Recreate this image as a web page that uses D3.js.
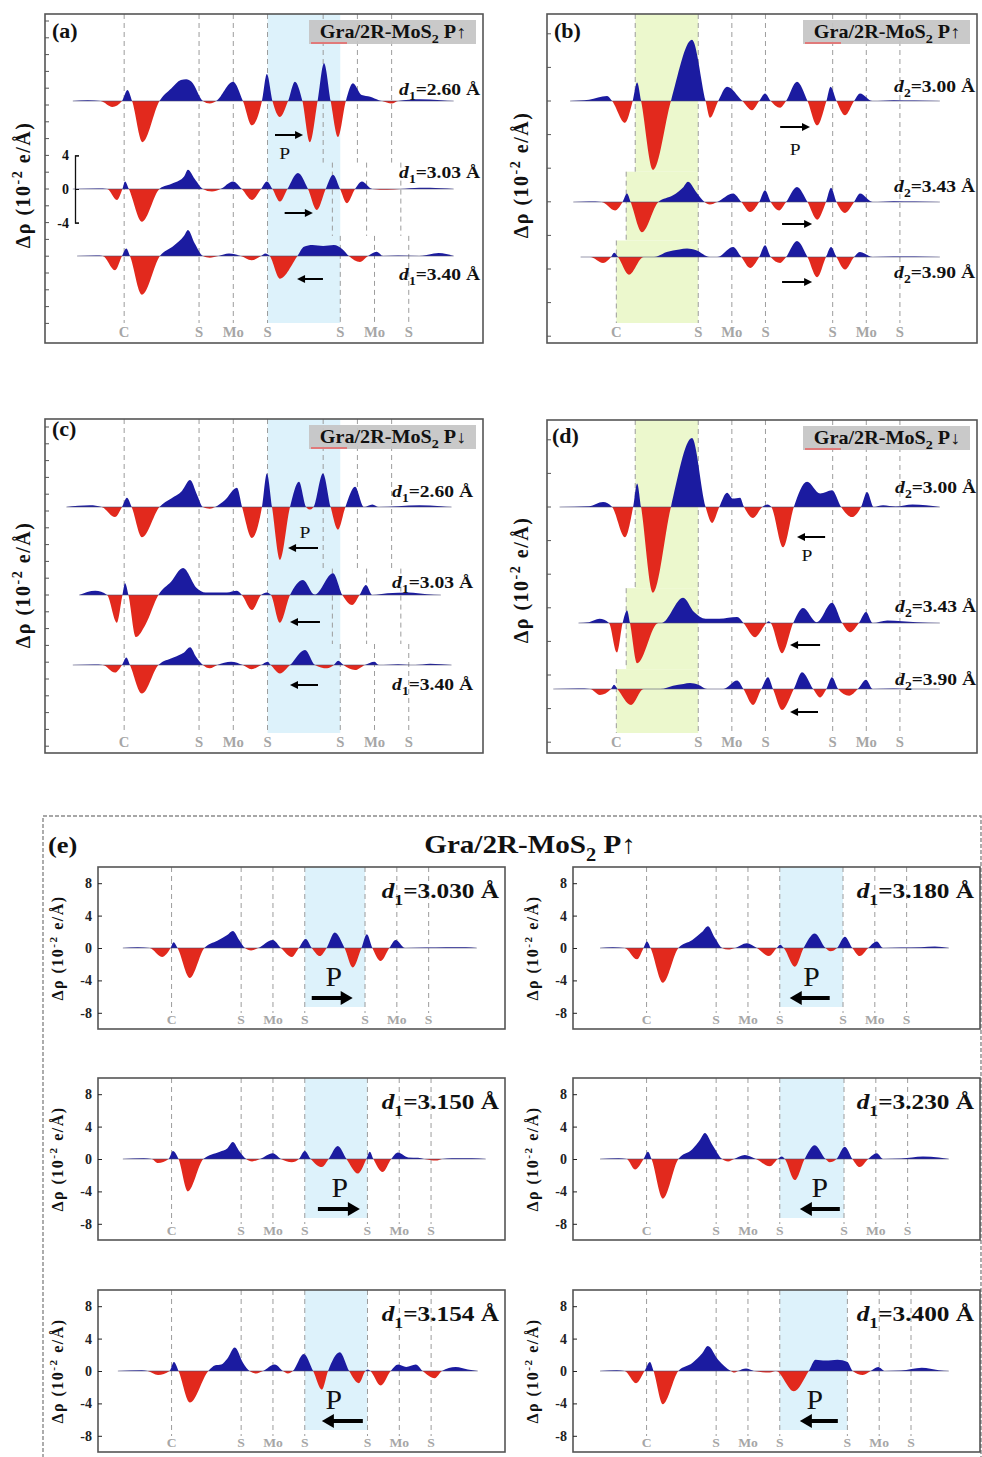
<!DOCTYPE html>
<meta charset="utf-8">
<style>
  body { margin: 0; background: #fff; }
  svg text { font-family: "Liberation Serif", "Times New Roman", serif; }
</style>
<body>
<script src="https://cdn.jsdelivr.net/npm/d3@7"></script>
<script>
// ---------------- data (z in Å along the stacking axis, Δρ in 10^-2 e/Å) ----------------
var atomNames = ["C", "S", "Mo", "S", "S", "Mo", "S"];
var lowerLayer = [7.2, 8.8, 10.4];     // S, Mo, S of the bottom MoS2 layer
var upperOffsets = [0, 1.6, 3.2];      // S, Mo, S of the top layer from its lower S
var d1Fixed = 3.2, d2Fixed = 3.5;

var d1Up = [2.60, 3.03, 3.40];         // (a), (c)
var d2Up = [3.00, 3.43, 3.90];         // (b), (d)
var d1Scan = [3.030, 3.180, 3.150, 3.230, 3.154, 3.400];  // (e)
var pScan = [1, -1, 1, -1, -1, -1];    // polarization direction in (e)

var a_260 = [[1.3,0],[2.0,0.1],[2.6,0],[3.15,-0.7],[3.6,0],[3.85,1.3],[4.07,0],[4.55,-4.9],[5.35,0],[5.9,1.5],[6.35,2.5],[6.6,2.6],[6.85,2.3],[7.38,0],[7.7,-0.3],[8.0,0],[8.79,2.3],[9.25,0],[9.67,-2.9],[10.14,0],[10.37,3.2],[10.63,0],[10.98,-1.9],[11.36,0],[11.68,2.3],[12.03,0],[12.38,-4.9],[12.74,0],[13.04,4.5],[13.35,0],[13.69,-4.3],[14.06,0],[14.39,2.1],[14.8,0.7],[15.2,0.5],[15.6,0.1],[15.75,0],[16.2,-0.3],[16.5,0],[17.5,0.2],[18.5,0.1],[19.1,0]];
var a_303 = [[1.3,0],[2.5,0.05],[2.9,0],[3.36,-1.3],[3.62,0],[3.74,0.9],[3.92,0],[4.53,-3.9],[5.35,0],[6.0,0.7],[6.5,1.5],[6.68,2.3],[7.0,1.2],[7.38,0],[7.8,-0.3],[8.2,0],[8.79,0.9],[9.2,0],[9.67,-1.3],[10.1,0],[10.37,0.9],[10.63,0],[10.98,-1.5],[11.33,0],[11.82,1.9],[12.29,0],[12.71,-2.5],[13.12,0],[13.46,1.7],[13.79,0],[14.11,-1.7],[14.49,0],[14.81,0.9],[15.3,0],[16.0,-0.1],[16.6,0],[17.5,0.15],[18.5,0.1],[19.1,0]];
var a_340 = [[1.5,0],[2.4,0.05],[2.7,0],[3.27,-1.7],[3.6,0],[3.8,0.9],[3.97,0],[4.53,-4.6],[5.37,0],[6.0,1.2],[6.5,2.4],[6.68,3.1],[7.0,1.5],[7.38,0],[7.7,-0.2],[8.1,0],[8.6,0.3],[9.15,0],[9.65,-0.5],[10.1,0],[10.3,0.3],[10.5,0],[10.98,-2.7],[11.8,0],[12.1,1.1],[12.5,1.3],[13.0,1.2],[13.5,1.3],[13.9,0.8],[14.2,0],[14.72,-0.7],[15.1,0],[15.5,0.5],[15.8,0],[16.5,0.05],[17.5,0],[18.4,0.35],[19.1,0]];

var b_300 = [[1.1,0],[2.0,0.15],[2.86,0.6],[3.1,0],[3.71,-2.6],[4.08,0],[4.29,2.2],[4.48,0],[5.05,-8.2],[5.9,0],[6.9,7.3],[7.55,0],[7.76,-2.0],[8.15,0],[8.57,1.7],[9.3,0],[9.76,-1.1],[10.1,0],[10.38,0.9],[10.65,0],[11.1,-0.8],[11.38,0],[11.9,2.3],[12.4,0],[12.86,-2.9],[13.3,0],[13.5,1.7],[13.78,0],[14.19,-1.7],[14.62,0],[14.9,0.9],[15.5,0],[16.5,0.1],[17.5,0.05],[18.7,0]];
var b_343 = [[1.25,0],[2.0,0.05],[2.6,0],[3.24,-1.0],[3.6,0],[3.81,1.0],[3.98,0],[4.52,-3.6],[5.3,0],[6.0,0.8],[6.5,1.8],[6.71,2.4],[7.1,1.2],[7.5,0],[7.75,-0.3],[8.1,0],[8.86,1.0],[9.25,0],[9.67,-1.2],[10.1,0],[10.38,1.4],[10.65,0],[11.05,-1.0],[11.38,0],[11.9,1.8],[12.4,0],[12.86,-2.1],[13.28,0],[13.52,1.7],[13.78,0],[14.19,-1.3],[14.62,0],[14.9,1.0],[15.5,0],[16.5,0.1],[17.5,0.05],[18.7,0]];
var b_390 = [[1.6,0],[2.05,0],[2.67,-0.7],[3.05,0],[3.2,0.5],[3.38,0],[3.9,-2.1],[4.6,0],[5.1,0],[5.7,0.6],[6.3,0.9],[6.67,1.0],[7.1,0.8],[7.75,0],[8.1,0],[8.86,1.2],[9.25,0],[9.67,-1.3],[10.1,0],[10.38,1.4],[10.65,0],[11.1,-0.7],[11.38,0],[11.9,1.9],[12.4,0],[12.86,-2.4],[13.28,0],[13.52,1.2],[13.78,0],[14.19,-1.5],[14.62,0],[14.9,0.6],[15.5,0],[16.5,0.05],[17.5,0.05],[18.7,0]];

var c_260 = [[1.0,0],[2.1,0.2],[2.65,0],[3.27,-1.2],[3.6,0],[3.83,1.1],[4.05,0],[4.53,-3.6],[5.35,0],[5.9,1.0],[6.4,1.9],[6.78,3.2],[7.1,1.5],[7.38,0],[7.7,-0.2],[7.95,0],[8.4,0.8],[8.97,2.3],[9.21,0],[9.67,-3.7],[10.14,0],[10.37,4.0],[10.61,0],[10.98,-6.3],[11.45,0],[11.87,3.0],[12.2,0],[12.38,-0.3],[12.55,0],[12.99,4.0],[13.35,0],[13.69,-2.7],[14.04,0],[14.49,2.4],[14.9,0],[15.3,0.3],[15.6,0],[16.5,0.1],[17.5,0.2],[18.5,0.1],[19.0,0]];
var c_303 = [[1.6,0],[2.35,0.5],[2.9,0],[3.36,-3.3],[3.62,0],[3.74,1.4],[3.9,0],[4.25,-5.0],[4.7,-3.5],[5.3,0],[5.9,1.6],[6.45,3.2],[7.1,0.8],[7.5,0.3],[8.5,0.3],[8.97,0.5],[9.2,0],[9.67,-1.8],[10.1,0],[10.37,0.3],[10.56,0],[10.98,-3.3],[11.45,0],[12.06,1.8],[12.6,0.05],[13.46,2.6],[13.9,0],[14.35,-1.2],[14.7,0],[15.0,1.2],[15.3,0],[16.0,0.2],[17.0,0.3],[17.85,0.1],[18.5,0]];
var c_340 = [[1.3,0],[2.3,0.05],[2.7,0],[3.27,-0.9],[3.6,0],[3.8,0.9],[3.97,0],[4.53,-3.4],[5.3,0],[6.0,0.9],[6.5,1.5],[6.78,2.1],[7.05,1.0],[7.38,0],[7.7,-0.4],[8.05,0],[8.7,0.4],[9.25,0],[9.65,-0.5],[10.1,0],[10.4,0.4],[10.55,0],[10.98,-1.0],[11.45,0],[12.15,1.8],[12.62,0],[13.18,-0.4],[13.5,0],[13.7,0.5],[13.95,0],[14.49,-0.6],[14.95,0],[15.4,0.4],[15.6,0],[16.5,0.1],[17.3,0],[18.0,0.15],[19.0,0]];

var d_300 = [[0.6,0],[2.0,0.1],[2.67,0.6],[3.1,0],[3.71,-3.6],[4.1,0],[4.29,2.8],[4.48,0],[5.05,-10.2],[5.9,0],[6.9,8.2],[7.55,0],[7.86,-1.9],[8.2,0],[8.57,1.7],[8.85,1.0],[9.19,1.1],[9.38,0],[9.81,-1.3],[10.25,0],[10.5,0.3],[10.68,0],[11.24,-4.8],[11.75,0],[12.38,3.0],[13.0,1.6],[13.57,2.0],[14.0,0],[14.52,-1.2],[14.95,0],[15.24,1.8],[15.55,0],[16.0,0.2],[16.6,0.05],[17.4,0.3],[18.7,0]];
var d_343 = [[1.5,0],[2.0,0.1],[2.5,0.5],[2.95,0],[3.33,-3.5],[3.6,0],[3.81,1.5],[3.95,0],[4.29,-4.8],[5.3,0],[5.45,0],[6.48,3.0],[7.0,1.3],[7.55,0.5],[8.2,0.5],[9.05,0.7],[9.35,0],[9.9,-1.7],[10.45,0],[10.55,0.2],[10.65,0],[11.19,-3.6],[11.72,0],[12.19,1.8],[12.85,0.1],[13.57,2.4],[14.05,0],[14.43,-1.1],[14.85,0],[15.19,1.3],[15.5,0],[16.2,0.3],[16.9,0.2],[17.6,0.1],[18.7,0]];
var d_390 = [[0.3,0],[1.5,0.05],[2.05,0],[2.52,-0.7],[3.05,0],[3.19,0.5],[3.35,0],[4.0,-1.9],[4.6,0],[5.4,0],[6.0,0.4],[6.5,0.6],[6.81,0.7],[7.2,0.5],[7.62,0],[8.4,0],[9.05,1.0],[9.35,0],[9.81,-1.9],[10.2,0],[10.52,1.4],[10.76,0],[11.19,-2.5],[11.75,0],[12.14,2.0],[12.67,0],[13.0,-1.0],[13.3,0],[13.57,1.4],[13.86,0],[14.38,-0.8],[14.8,0],[15.19,1.1],[15.5,0],[16.5,0.05],[17.5,0],[18.7,0]];

var e_3030 = [[1.25,0],[2.0,0.1],[2.6,0],[3.22,-1.1],[3.65,0],[3.8,0.7],[4.0,0],[4.62,-3.7],[5.35,0],[6.0,0.9],[6.5,1.6],[6.78,2.1],[7.1,1.0],[7.39,0],[7.7,-0.3],[8.05,0],[8.79,1.0],[9.2,0],[9.75,-1.1],[10.1,0],[10.45,1.1],[10.75,0],[11.16,-1.0],[11.5,0],[11.91,1.9],[12.4,0],[12.81,-2.4],[13.25,0],[13.52,1.7],[13.8,0],[14.22,-1.6],[14.65,0],[14.97,1.0],[15.45,0],[16.5,0.05],[17.5,0.1],[18.5,0.1],[19.05,0]];
var e_3180 = [[1.36,0],[2.0,0.1],[2.6,0],[3.22,-1.4],[3.55,0],[3.72,0.8],[3.9,0],[4.52,-4.3],[5.3,0],[6.0,1.0],[6.5,2.0],[6.78,2.7],[7.15,1.2],[7.5,0],[7.8,-0.2],[8.15,0],[8.74,0.6],[9.25,0],[9.85,-1.0],[10.25,0],[10.42,0.4],[10.6,0],[11.16,-2.3],[11.6,0],[12.16,1.8],[12.7,0],[12.95,-0.4],[13.28,0],[13.67,1.4],[14.05,0],[14.42,-1.0],[14.85,0],[15.28,0.8],[15.6,0],[16.5,0.05],[17.5,0.1],[18.2,0.2],[18.9,0]];
var e_3150 = [[1.25,0],[2.3,0.1],[2.7,0],[3.02,-0.5],[3.55,0],[3.77,1.0],[4.05,0],[4.52,-4.0],[5.3,0],[6.13,0.9],[6.5,1.3],[6.78,2.1],[7.1,1.0],[7.45,0],[7.75,-0.3],[8.15,0],[8.79,0.7],[9.2,0],[9.75,-0.4],[10.1,0],[10.4,1.0],[10.7,0],[11.26,-1.0],[11.6,0],[12.06,1.6],[12.5,0],[13.07,-1.8],[13.5,0],[13.67,0.9],[13.85,0],[14.32,-1.6],[14.75,0],[15.08,0.8],[15.6,0.2],[16.1,0.15],[16.4,0],[17.0,-0.2],[17.3,0],[17.8,0.1],[18.8,0.1],[19.5,0]];
var e_3230 = [[1.36,0],[2.3,0.1],[2.7,0],[3.12,-1.3],[3.55,0],[3.77,0.9],[3.95,0],[4.52,-4.9],[5.3,0],[6.0,1.2],[6.4,2.4],[6.63,3.2],[7.0,1.8],[7.5,0],[7.8,-0.3],[8.1,0],[8.64,0.5],[9.2,0],[9.9,-0.9],[10.3,0],[10.5,0.3],[10.65,0],[11.16,-2.6],[11.65,0],[12.16,1.7],[12.7,0],[12.91,-0.4],[13.25,0],[13.67,1.5],[14.05,0],[14.42,-1.0],[14.85,0],[15.28,0.7],[15.6,0],[16.5,0.05],[17.6,0.3],[18.4,0.2],[18.9,0]];
var e_3154 = [[1.0,0],[2.2,0.1],[2.5,0],[3.02,-0.5],[3.6,0],[3.82,1.1],[4.05,0],[4.62,-3.9],[5.55,0],[5.9,0.7],[6.2,0.8],[6.5,1.5],[6.88,2.9],[7.3,1.0],[7.62,0],[7.95,-0.3],[8.3,0],[8.89,0.8],[9.3,0],[9.55,-0.3],[9.8,0],[10.35,2.1],[10.82,0],[11.26,-2.3],[11.57,0],[12.16,2.3],[12.63,0],[13.12,-1.5],[13.45,0],[13.57,0.2],[13.7,0],[14.22,-1.8],[14.72,0],[15.1,0.8],[15.5,0.5],[15.98,0.8],[16.33,0],[16.93,-0.9],[17.3,0],[17.99,0.5],[18.6,0.2],[19.1,0]];
var e_3400 = [[1.36,0],[2.2,0.1],[2.6,0],[3.17,-1.5],[3.6,0],[3.87,1.1],[4.05,0],[4.52,-4.1],[5.3,0],[6.0,1.0],[6.5,2.2],[6.78,3.1],[7.3,1.4],[7.94,0],[8.1,-0.2],[8.3,0],[8.7,0.3],[9.1,0],[9.9,-0.2],[10.2,0],[11.11,-2.5],[11.86,0],[12.2,1.4],[12.7,1.3],[13.3,1.4],[13.8,1.1],[14.07,0],[14.57,-0.5],[14.97,0],[15.35,0.5],[15.7,0],[16.5,0.05],[17.54,0.4],[18.4,0.1],[18.9,0]];

var panelA = [a_260, a_303, a_340];
var panelB = [b_300, b_343, b_390];
var panelC = [c_260, c_303, c_340];
var panelD = [d_300, d_343, d_390];
var scanCurves = [e_3030, e_3180, e_3150, e_3230, e_3154, e_3400];

// ---------------- layout ----------------
var W = 982, H = 1457;
var xDomain = [0, 20.47];
var kTop = 8.4;                // px per unit in (a)-(d)
var blue = "#1b1ba0", red = "#e2291d", skyBlue = "#ddf2fb", lime = "#ecf8cd";
var same3 = function (v) { return [v, v, v]; };

var topPanels = [
  { tag: "(a)", tagPos: [52, 38], box: [45, 14, 483, 343], bases: [101, 189, 256], curves: panelA,
    d1: d1Up, d2: same3(d2Fixed), dSub: "1", dVals: d1Up, pArrow: "↑", region: "S", tickStep: 2, tickAnchor: 1,
    dLab: [95, 178, 280], dx: 480, arrows: [[135, 10.75, 12.06], [213, 11.2, 12.52], [279, 12.99, 11.78]],
    P: [11.2, 159], ylab: [30, 185], bracket: true },
  { tag: "(b)", tagPos: [554, 38], box: [547, 14, 977, 343], bases: [101, 202, 257], curves: panelB,
    d1: same3(d1Fixed), d2: d2Up, dSub: "2", dVals: d2Up, pArrow: "↑", region: "C", tickStep: 4, tickAnchor: 0,
    dLab: [92, 192, 278], dx: 975, arrows: [[127, 11.1, 12.52], [224, 11.19, 12.62], [282, 11.19, 12.62]],
    P: [11.81, 155], ylab: [528, 175] },
  { tag: "(c)", tagPos: [52, 436], box: [45, 419, 483, 753], bases: [507, 595, 665], curves: panelC,
    d1: d1Up, d2: same3(d2Fixed), dSub: "1", dVals: d1Up, pArrow: "↓", region: "S", tickStep: 2, tickAnchor: 1,
    dLab: [497, 588, 690], dx: 473, arrows: [[548, 12.76, 11.36], [622, 12.85, 11.45], [685, 12.76, 11.45]],
    P: [12.15, 538], ylab: [30, 585] },
  { tag: "(d)", tagPos: [552, 443], box: [547, 420, 977, 753], bases: [507, 623, 689], curves: panelD,
    d1: same3(d1Fixed), d2: d2Up, dSub: "2", dVals: d2Up, pArrow: "↓", region: "C", tickStep: 4, tickAnchor: 0,
    dLab: [493, 612, 685], dx: 976, arrows: [[537, 13.24, 11.9], [645, 13.0, 11.57], [712, 12.9, 11.57]],
    P: [12.38, 561], ylab: [528, 580] }
];

var eCols = [98, 573], eRows = [867, 1078, 1290], eW = 407, eH = 162;
var eArrowFrom = [10.75, 12.91, 11.06, 13.42, 13.32, 13.32];
var eArrowTo = [12.81, 10.9, 13.17, 11.41, 11.26, 11.41];
var ePx = [11.86, 12.0, 12.16, 12.41, 11.86, 12.16];

// ---------------- helpers ----------------
var svg = d3.select("body").append("svg").attr("width", W).attr("height", H);
var defs = svg.append("defs");

function atomPositions(d1, d2) {
  var s3 = lowerLayer[2] + d1;
  return [lowerLayer[0] - d2].concat(lowerLayer, upperOffsets.map(function (o) { return s3 + o; }));
}

function label(g, x, y, size, parts, o) {
  o = o || {};
  var t = g.append("text")
    .attr("transform", "translate(" + x + "," + y + ")" + (o.rot ? " rotate(-90)" : " scale(" + (o.sx || 1.15) + ",1)"))
    .attr("text-anchor", o.anchor || "start")
    .attr("font-size", size)
    .attr("font-weight", o.weight || "bold")
    .attr("fill", o.fill || "#111");
  if (o.ls) t.attr("letter-spacing", o.ls);
  var cur = 0;
  parts.forEach(function (p) {
    if (typeof p === "string") p = [p];
    var target = p[1] === "sub" ? size * 0.3 : (p[1] === "sup" ? -size * 0.4 : 0);
    var s = t.append("tspan").attr("dy", target - cur).text(p[0]);
    if (p[1] === "sub" || p[1] === "sup") s.attr("font-size", size * 0.7);
    if (p[1] === "i") s.attr("font-style", "italic");
    cur = target;
  });
  return t;
}

function arrow(g, xa, xb, y, w, hl, hw) {
  var dir = xb > xa ? 1 : -1;
  g.append("line").attr("x1", xa).attr("x2", xb - dir * hl * 0.8).attr("y1", y).attr("y2", y)
    .attr("stroke", "#000").attr("stroke-width", w);
  g.append("path")
    .attr("d", "M" + xb + "," + y + "L" + (xb - dir * hl) + "," + (y - hw) + "L" + (xb - dir * hl) + "," + (y + hw) + "Z")
    .attr("fill", "#000");
}

var clipId = 0;
function drawCurve(g, pts, x, y, xr) {
  var base = y(0);
  var area = d3.area().x(function (d) { return x(d[0]); }).y0(base)
    .y1(function (d) { return y(d[1]); }).curve(d3.curveMonotoneX);
  ["pos", "neg"].forEach(function (side) {
    var id = "clip" + (clipId++);
    defs.append("clipPath").attr("id", id).append("rect")
      .attr("x", xr[0]).attr("width", xr[1] - xr[0])
      .attr("y", side === "pos" ? base - 300 : base).attr("height", 300);
    g.append("path").datum(pts).attr("d", area)
      .attr("fill", side === "pos" ? blue : red)
      .attr("clip-path", "url(#" + id + ")");
  });
  g.append("line").attr("x1", x(pts[0][0])).attr("x2", x(pts[pts.length - 1][0]))
    .attr("y1", base).attr("y2", base)
    .attr("stroke", "#4a4a70").attr("stroke-width", 0.8).attr("opacity", 0.7);
}

function dashed(g, xv, ya, yb) {
  g.append("line").attr("x1", xv).attr("x2", xv).attr("y1", ya).attr("y2", yb)
    .attr("stroke", "#9c9c9c").attr("stroke-width", 1).attr("stroke-dasharray", "5,4");
}

function titleBox(g, xr, yt, size, arrowChar) {
  g.append("rect").attr("x", xr - 174).attr("y", yt).attr("width", 167).attr("height", 24)
    .attr("fill", "#c4c4c4").attr("opacity", 0.92);
  g.append("line").attr("x1", xr - 172).attr("x2", xr - 136).attr("y1", yt + 23).attr("y2", yt + 23)
    .attr("stroke", "#e07a7a").attr("stroke-width", 2);
  label(g, xr - 90, yt + 18, size, ["Gra/2R-MoS", ["2", "sub"], " P" + arrowChar], { anchor: "middle", sx: 1.12 });
}

// ---------------- panels (a)-(d) ----------------
topPanels.forEach(function (p) {
  var x0 = p.box[0], y0 = p.box[1], x1 = p.box[2], y1 = p.box[3];
  var g = svg.append("g");
  var x = d3.scaleLinear().domain(xDomain).range([x0, x1]);
  var n = p.curves.length;
  var ys = p.bases.map(function (b) { return d3.scaleLinear().domain([-1, 1]).range([b + kTop, b - kTop]); });
  var atoms = p.curves.map(function (c, i) { return atomPositions(p.d1[i], p.d2[i]); });
  var lineBottom = y1 - 20;
  var cuts = [y0];
  for (var i = 0; i < n - 1; i++) cuts.push(p.bases[i] + 0.7 * (p.bases[i + 1] - p.bases[i]));
  cuts.push(lineBottom);

  // shaded interlayer region
  if (p.region === "S") {
    g.append("rect").attr("x", x(lowerLayer[2])).attr("y", y0)
      .attr("width", x(atoms[n - 1][4]) - x(lowerLayer[2])).attr("height", lineBottom - y0)
      .attr("fill", skyBlue);
  } else {
    atoms.forEach(function (a, i) {
      g.append("rect").attr("x", x(a[0])).attr("y", cuts[i])
        .attr("width", x(lowerLayer[0]) - x(a[0])).attr("height", cuts[i + 1] - cuts[i])
        .attr("fill", lime);
    });
  }

  // atom guide lines
  atomNames.forEach(function (nm, j) {
    var fixed = atoms.every(function (a) { return a[j] === atoms[0][j]; });
    if (fixed) dashed(g, x(atoms[0][j]), y0, lineBottom);
    else atoms.forEach(function (a, i) { dashed(g, x(a[j]), cuts[i], cuts[i + 1]); });
  });
  atomNames.forEach(function (nm, j) {
    label(g, x(atoms[n - 1][j]), y1 - 6, 14, [nm], { anchor: "middle", fill: "#a6a6a6", sx: 1.05 });
  });

  p.curves.forEach(function (c, i) { drawCurve(g, c, x, ys[i], [x0, x1]); });

  // frame and left ticks
  g.append("rect").attr("x", x0).attr("y", y0).attr("width", x1 - x0).attr("height", y1 - y0)
    .attr("fill", "none").attr("stroke", "#555").attr("stroke-width", 1.6);
  var anchor = p.bases[p.tickAnchor], step = p.tickStep * kTop;
  d3.range(-30, 31).map(function (k) { return anchor + k * step; })
    .filter(function (v) { return v > y0 + 4 && v < y1 - 4; })
    .forEach(function (v) {
      g.append("line").attr("x1", x0).attr("x2", x0 + 4).attr("y1", v).attr("y2", v)
        .attr("stroke", "#555").attr("stroke-width", 1);
    });

  if (p.bracket) {
    var ya = d3.scaleLinear().domain([-4, 4]).range([p.bases[1] + 4 * kTop, p.bases[1] - 4 * kTop]);
    var ax = g.append("g").attr("transform", "translate(75,0)")
      .call(d3.axisLeft(ya).tickValues([-4, 0, 4]).tickSizeInner(-4).tickSizeOuter(-4).tickPadding(6)
        .tickFormat(function (d) { return String(d); }));
    ax.attr("color", "#111");
    ax.select(".domain").attr("stroke-width", 1.3);
    ax.selectAll("text").attr("font-size", 14).attr("font-weight", "bold")
      .attr("font-family", "'Liberation Serif', serif");
  }

  // annotations
  label(g, p.tagPos[0], p.tagPos[1], 20, [p.tag], { sx: 1.1 });
  titleBox(g, x1, y0 + 6, 18, p.pArrow);
  p.dVals.forEach(function (v, i) {
    label(g, p.dx, p.dLab[i], 17, [["d", "i"], [p.dSub, "sub"], "=" + v.toFixed(2) + " Å"], { anchor: "end" });
  });
  p.arrows.forEach(function (a) { arrow(g, x(a[1]), x(a[2]), a[0], 2, 8, 4); });
  label(g, x(p.P[0]), p.P[1], 17, ["P"], { anchor: "middle", weight: "normal" });
  label(g, p.ylab[0], p.ylab[1], 20, ["Δρ (10", ["-2", "sup"], " e/Å)"], { rot: true, anchor: "middle", ls: 1.5 });
});

// ---------------- panel (e) ----------------
var ge = svg.append("g");
ge.append("rect").attr("x", 43).attr("y", 816).attr("width", 938).attr("height", 700)
  .attr("fill", "none").attr("stroke", "#8a8a8a").attr("stroke-width", 1.4).attr("stroke-dasharray", "4,2");
label(ge, 48, 853, 24, ["(e)"], { sx: 1.1 });
label(ge, 530, 853, 26, ["Gra/2R-MoS", ["2", "sub"], " P↑"], { anchor: "middle", sx: 1.12 });

scanCurves.forEach(function (c, i) {
  var left = eCols[i % 2], top = eRows[Math.floor(i / 2)];
  var g = ge.append("g");
  var x = d3.scaleLinear().domain(xDomain).range([left, left + eW]);
  var y = d3.scaleLinear().domain([-10, 10]).range([top + eH, top]);
  var atoms = atomPositions(d1Scan[i], d2Fixed);

  g.append("rect").attr("x", x(lowerLayer[2])).attr("y", top)
    .attr("width", x(atoms[4]) - x(lowerLayer[2])).attr("height", 140).attr("fill", skyBlue);
  atoms.forEach(function (a, j) {
    dashed(g, x(a), top, top + 146);
    label(g, x(a), top + 157, 13, [atomNames[j]], { anchor: "middle", fill: "#a6a6a6", sx: 1.05 });
  });

  drawCurve(g, c, x, y, [left, left + eW]);

  g.append("rect").attr("x", left).attr("y", top).attr("width", eW).attr("height", eH)
    .attr("fill", "none").attr("stroke", "#555").attr("stroke-width", 1.6);
  var ax = g.append("g").attr("transform", "translate(" + left + ",0)")
    .call(d3.axisLeft(y).tickValues([-8, -4, 0, 4, 8]).tickSizeInner(-4).tickSizeOuter(0).tickPadding(6)
      .tickFormat(function (d) { return String(d); }));
  ax.attr("color", "#222");
  ax.select(".domain").remove();
  ax.selectAll("text").attr("font-size", 14).attr("font-weight", "bold")
    .attr("font-family", "'Liberation Serif', serif");
  label(g, left - 35, y(0), 16, ["Δρ (10", ["-2", "sup"], " e/Å)"], { rot: true, anchor: "middle", ls: 1.5 });

  label(g, left + 401, top + 31, 22, [["d", "i"], ["1", "sub"], "=" + d1Scan[i].toFixed(3) + " Å"], { anchor: "end" });
  label(g, x(ePx[i]), top + 119, 27, ["P"], { anchor: "middle", weight: "normal", sx: 1.1 });
  arrow(g, x(eArrowFrom[i]), x(eArrowTo[i]), top + 131, 4, 12, 7);
});
</script>
</body>
